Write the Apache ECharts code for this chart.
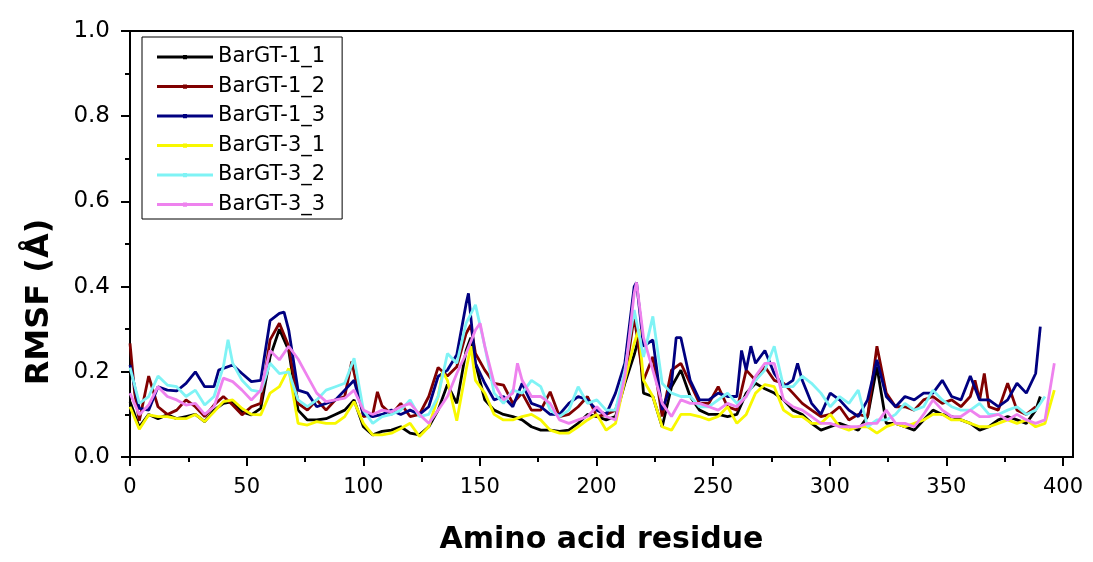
<!DOCTYPE html>
<html>
<head>
<meta charset="utf-8">
<script src="https://cdn.jsdelivr.net/npm/echarts@6/dist/echarts.min.js"></script>
<style>
  html, body { margin: 0; padding: 0; background: #fff; }
  #rmsfChart { width: 1093px; height: 562px; }
</style>
</head>
<body>
<div id="rmsfChart"></div>
<script>
// series names (legend order)
var seriesNames = ['BarGT-1_1', 'BarGT-1_2', 'BarGT-1_3', 'BarGT-3_1', 'BarGT-3_2', 'BarGT-3_3'];
var seriesColors = ['#000000', '#800000', '#000080', '#f8f800', '#7ff3f5', '#ee82ee'];
var xTicks = [0, 50, 100, 150, 200, 250, 300, 350, 400];

// [residue, RMSF]
var bargt11 = [[0,0.13],[4,0.07],[8,0.10],[12,0.09],[16,0.099],[20,0.09],[24,0.095],[28,0.10],[32,0.083],[36,0.11],[40,0.126],[44,0.13],[48,0.106],[52,0.099],[56,0.114],[60,0.235],[64,0.30],[68,0.25],[72,0.11],[76,0.087],[80,0.087],[84,0.09],[88,0.10],[92,0.11],[96,0.134],[100,0.071],[104,0.052],[108,0.06],[112,0.063],[116,0.071],[120,0.056],[124,0.052],[128,0.071],[132,0.11],[136,0.17],[140,0.126],[144,0.25],[146,0.28],[148,0.22],[152,0.134],[156,0.11],[160,0.10],[164,0.095],[168,0.087],[172,0.071],[176,0.063],[180,0.063],[184,0.06],[188,0.063],[192,0.079],[196,0.10],[200,0.095],[204,0.087],[208,0.095],[212,0.173],[216,0.24],[218,0.28],[220,0.15],[224,0.142],[228,0.071],[232,0.165],[236,0.204],[240,0.142],[244,0.11],[248,0.10],[252,0.10],[256,0.095],[260,0.10],[264,0.15],[268,0.173],[272,0.16],[276,0.15],[280,0.134],[284,0.11],[288,0.10],[292,0.079],[296,0.063],[300,0.071],[304,0.079],[308,0.071],[312,0.063],[316,0.095],[320,0.212],[324,0.079],[328,0.079],[332,0.071],[336,0.063],[340,0.087],[344,0.11],[348,0.10],[352,0.095],[356,0.087],[360,0.079],[364,0.063],[368,0.071],[372,0.087],[376,0.095],[380,0.087],[384,0.079],[388,0.11],[390,0.142]];
var bargt12 = [[0,0.267],[2,0.15],[4,0.085],[8,0.19],[12,0.118],[16,0.10],[20,0.11],[24,0.134],[28,0.118],[32,0.095],[36,0.122],[40,0.142],[44,0.122],[48,0.099],[52,0.118],[56,0.126],[60,0.275],[64,0.314],[68,0.26],[72,0.126],[76,0.11],[80,0.134],[84,0.11],[88,0.134],[92,0.142],[95,0.224],[100,0.095],[104,0.10],[106,0.153],[108,0.12],[112,0.10],[116,0.126],[120,0.095],[124,0.10],[128,0.142],[132,0.21],[136,0.19],[140,0.212],[144,0.29],[146,0.31],[148,0.243],[152,0.204],[156,0.173],[160,0.169],[164,0.126],[168,0.15],[172,0.11],[176,0.11],[180,0.153],[184,0.095],[188,0.10],[192,0.118],[196,0.142],[200,0.095],[204,0.10],[208,0.11],[212,0.18],[216,0.33],[220,0.18],[224,0.235],[228,0.095],[232,0.204],[236,0.22],[240,0.173],[244,0.126],[248,0.126],[252,0.165],[256,0.118],[260,0.11],[264,0.204],[268,0.18],[272,0.212],[276,0.18],[280,0.173],[284,0.15],[288,0.126],[292,0.11],[296,0.095],[300,0.10],[304,0.118],[308,0.087],[312,0.10],[316,0.095],[320,0.26],[324,0.15],[328,0.118],[332,0.118],[336,0.11],[340,0.134],[344,0.142],[348,0.126],[352,0.134],[356,0.118],[360,0.142],[362,0.18],[364,0.134],[366,0.196],[368,0.118],[372,0.11],[376,0.173],[380,0.11],[384,0.10],[388,0.118]];
var bargt13 = [[0,0.216],[4,0.114],[8,0.11],[12,0.165],[16,0.157],[20,0.155],[24,0.173],[28,0.20],[32,0.165],[36,0.165],[38,0.204],[40,0.208],[44,0.216],[48,0.196],[52,0.177],[56,0.18],[60,0.32],[64,0.337],[66,0.34],[68,0.298],[72,0.157],[76,0.15],[80,0.118],[84,0.126],[88,0.134],[92,0.157],[96,0.18],[100,0.10],[104,0.095],[108,0.10],[112,0.11],[116,0.10],[120,0.11],[124,0.10],[128,0.118],[132,0.189],[136,0.204],[140,0.24],[144,0.36],[145,0.384],[148,0.22],[152,0.173],[156,0.134],[160,0.142],[164,0.118],[168,0.173],[172,0.126],[176,0.118],[180,0.10],[184,0.10],[188,0.126],[192,0.142],[196,0.134],[200,0.11],[204,0.10],[208,0.15],[212,0.22],[216,0.40],[217,0.41],[220,0.26],[224,0.275],[228,0.11],[232,0.173],[234,0.28],[236,0.28],[240,0.18],[244,0.134],[248,0.134],[252,0.15],[256,0.142],[260,0.142],[262,0.25],[264,0.204],[266,0.26],[268,0.22],[272,0.25],[276,0.196],[280,0.165],[284,0.18],[286,0.22],[288,0.18],[292,0.126],[296,0.10],[300,0.15],[304,0.134],[308,0.11],[312,0.095],[316,0.134],[320,0.228],[324,0.142],[328,0.118],[332,0.142],[336,0.134],[340,0.15],[344,0.15],[348,0.18],[352,0.142],[356,0.134],[360,0.19],[364,0.134],[368,0.134],[372,0.118],[376,0.134],[380,0.173],[384,0.15],[388,0.196],[390,0.306]];
var bargt31 = [[0,0.118],[4,0.065],[8,0.099],[12,0.095],[16,0.095],[20,0.09],[24,0.09],[28,0.10],[32,0.083],[36,0.106],[40,0.13],[44,0.134],[48,0.114],[52,0.10],[56,0.099],[60,0.15],[64,0.165],[68,0.208],[72,0.079],[76,0.075],[80,0.083],[84,0.079],[88,0.079],[92,0.095],[96,0.13],[100,0.079],[104,0.052],[108,0.052],[112,0.056],[116,0.067],[120,0.079],[124,0.048],[128,0.071],[132,0.142],[134,0.20],[136,0.18],[140,0.085],[144,0.204],[146,0.26],[148,0.18],[152,0.15],[156,0.10],[160,0.087],[164,0.087],[168,0.095],[172,0.10],[176,0.087],[180,0.063],[184,0.056],[188,0.056],[192,0.071],[196,0.087],[200,0.10],[204,0.063],[208,0.079],[212,0.18],[216,0.267],[218,0.30],[220,0.18],[224,0.142],[228,0.071],[232,0.063],[236,0.10],[240,0.10],[244,0.095],[248,0.087],[252,0.095],[256,0.118],[260,0.079],[264,0.10],[268,0.15],[272,0.17],[276,0.165],[280,0.11],[284,0.095],[288,0.095],[292,0.079],[296,0.079],[300,0.10],[304,0.071],[308,0.063],[312,0.071],[316,0.071],[320,0.056],[324,0.071],[328,0.079],[332,0.071],[336,0.079],[340,0.087],[344,0.10],[348,0.10],[352,0.087],[356,0.087],[360,0.079],[364,0.071],[368,0.071],[372,0.079],[376,0.087],[380,0.079],[384,0.087],[388,0.071],[392,0.079],[396,0.157]];
var bargt32 = [[0,0.21],[4,0.126],[8,0.142],[12,0.19],[16,0.169],[20,0.165],[24,0.142],[28,0.157],[32,0.122],[36,0.142],[40,0.212],[42,0.275],[44,0.22],[48,0.18],[52,0.157],[56,0.153],[60,0.22],[64,0.196],[68,0.20],[72,0.134],[76,0.118],[80,0.134],[84,0.157],[88,0.165],[92,0.173],[96,0.232],[100,0.11],[104,0.079],[108,0.095],[112,0.10],[116,0.11],[120,0.134],[124,0.095],[128,0.10],[132,0.142],[136,0.243],[140,0.22],[144,0.314],[148,0.357],[152,0.26],[156,0.15],[160,0.126],[164,0.157],[168,0.15],[172,0.18],[176,0.165],[180,0.11],[184,0.095],[188,0.11],[192,0.165],[196,0.126],[200,0.134],[204,0.11],[208,0.11],[212,0.204],[216,0.345],[220,0.235],[224,0.33],[228,0.173],[232,0.15],[236,0.142],[240,0.142],[244,0.118],[248,0.118],[252,0.134],[256,0.15],[260,0.126],[264,0.142],[268,0.18],[272,0.204],[276,0.26],[280,0.165],[284,0.165],[288,0.19],[292,0.173],[296,0.15],[300,0.118],[304,0.142],[308,0.126],[312,0.157],[316,0.071],[320,0.087],[324,0.087],[328,0.10],[332,0.126],[336,0.11],[340,0.118],[344,0.157],[348,0.134],[352,0.118],[356,0.11],[360,0.11],[364,0.126],[368,0.10],[372,0.10],[376,0.11],[380,0.118],[384,0.10],[388,0.11],[392,0.142]];
var bargt33 = [[0,0.15],[4,0.099],[8,0.122],[12,0.165],[16,0.142],[20,0.134],[24,0.122],[28,0.126],[32,0.10],[36,0.118],[40,0.185],[44,0.177],[48,0.157],[52,0.134],[56,0.157],[60,0.25],[64,0.228],[68,0.26],[72,0.23],[76,0.19],[80,0.15],[84,0.13],[88,0.134],[92,0.138],[96,0.157],[100,0.11],[104,0.10],[108,0.11],[112,0.106],[116,0.118],[120,0.126],[124,0.10],[128,0.079],[132,0.11],[136,0.142],[140,0.196],[144,0.243],[148,0.298],[150,0.314],[152,0.26],[156,0.173],[160,0.134],[164,0.15],[166,0.22],[168,0.18],[172,0.142],[176,0.142],[180,0.126],[184,0.087],[188,0.079],[192,0.087],[196,0.095],[200,0.118],[204,0.095],[208,0.087],[212,0.19],[216,0.384],[217,0.41],[220,0.28],[224,0.204],[228,0.126],[232,0.095],[236,0.134],[240,0.126],[244,0.126],[248,0.118],[252,0.11],[256,0.126],[260,0.118],[264,0.142],[268,0.19],[272,0.22],[276,0.22],[280,0.134],[284,0.118],[288,0.11],[292,0.095],[296,0.079],[300,0.079],[304,0.071],[308,0.071],[312,0.071],[316,0.079],[320,0.079],[324,0.11],[328,0.079],[332,0.079],[336,0.071],[340,0.10],[344,0.134],[348,0.11],[352,0.095],[356,0.095],[360,0.11],[364,0.095],[368,0.095],[372,0.10],[376,0.087],[380,0.10],[384,0.087],[388,0.079],[392,0.087],[396,0.22]];

var allData = [bargt11, bargt12, bargt13, bargt31, bargt32, bargt33];

var myChart = echarts.init(document.getElementById('rmsfChart'));

var fontFamily = 'DejaVu Sans';
// legend icon: line with a small dot in the middle
var legendIcon = 'path://M0,0h0.01v0.01H0z M0,3.6h56v3H0z M26,3h4v4.2h-4z M55.99,9.99h0.01v0.01h-0.01z';

var series = seriesNames.map(function (name, i) {
    return {
        name: name,
        type: 'line',
        xAxisIndex: 0,
        yAxisIndex: 0,
        data: allData[i],
        showSymbol: false,
        symbol: 'none',
        color: seriesColors[i],
        lineStyle: { width: 2.8, color: seriesColors[i] }
    };
});

var option = {
    animation: false,
    backgroundColor: '#fff',
    textStyle: { fontFamily: fontFamily },
    grid: [
        { left: 130, right: 20, top: 31, bottom: 105, show: true, borderColor: '#000', borderWidth: 2 },
        // second grid only for the ticks (x axis 0-400 ticks, frame goes a bit further)
        { left: 130, right: 30, top: 31, bottom: 105 }
    ],
    legend: {
        orient: 'vertical',
        left: 142,
        top: 37,
        padding: [9.5, 17, 4, 15],
        itemGap: 8.5,
        itemWidth: 56,
        itemHeight: 10,
        icon: legendIcon,
        backgroundColor: '#fff',
        borderColor: '#000',
        borderWidth: 1,
        itemStyle: { borderWidth: 0 },
        textStyle: { fontFamily: fontFamily, fontSize: 21, lineHeight: 21, color: '#000' },
        data: seriesNames
    },
    xAxis: [
        {
            type: 'value',
            gridIndex: 0,
            min: 0,
            max: 404,
            name: 'Amino acid residue',
            nameLocation: 'middle',
            nameGap: 68,
            nameTextStyle: { fontFamily: fontFamily, fontSize: 30, fontWeight: 'bold', color: '#000' },
            axisLine: { lineStyle: { color: '#000', width: 2 } },
            axisTick: { show: false },
            axisLabel: { show: false },
            splitLine: { show: false }
        },
        {
            type: 'value',
            gridIndex: 1,
            min: xTicks[0],
            max: xTicks[xTicks.length - 1],
            interval: 50,
            axisLine: { show: false },
            axisTick: { show: true, inside: false, length: 9, lineStyle: { color: '#000', width: 2 } },
            minorTick: { show: true, splitNumber: 2, length: 5, lineStyle: { color: '#000', width: 2 } },
            axisLabel: { margin: 20, fontFamily: fontFamily, fontSize: 21, color: '#000' },
            splitLine: { show: false }
        }
    ],
    yAxis: [
        {
            type: 'value',
            gridIndex: 0,
            min: 0,
            max: 1,
            interval: 0.2,
            axisLine: { show: true, lineStyle: { color: '#000', width: 2 } },
            axisTick: { show: true, inside: false, length: 9, lineStyle: { color: '#000', width: 2 } },
            minorTick: { show: true, splitNumber: 2, length: 5, lineStyle: { color: '#000', width: 2 } },
            axisLabel: {
                margin: 20,
                fontFamily: fontFamily,
                fontSize: 23,
                color: '#000',
                formatter: function (v) { return v.toFixed(1); }
            },
            splitLine: { show: false }
        },
        { type: 'value', gridIndex: 1, min: 0, max: 1, show: false }
    ],
    graphic: [
        {
            type: 'text',
            x: 40,
            y: 302,
            rotation: Math.PI / 2,
            style: {
                text: 'RMSF (Å)',
                fontFamily: fontFamily,
                fontSize: 32,
                fontWeight: 'bold',
                fill: '#000',
                align: 'center',
                verticalAlign: 'middle'
            }
        }
    ],
    series: series
};

myChart.setOption(option);
</script>
</body>
</html>
